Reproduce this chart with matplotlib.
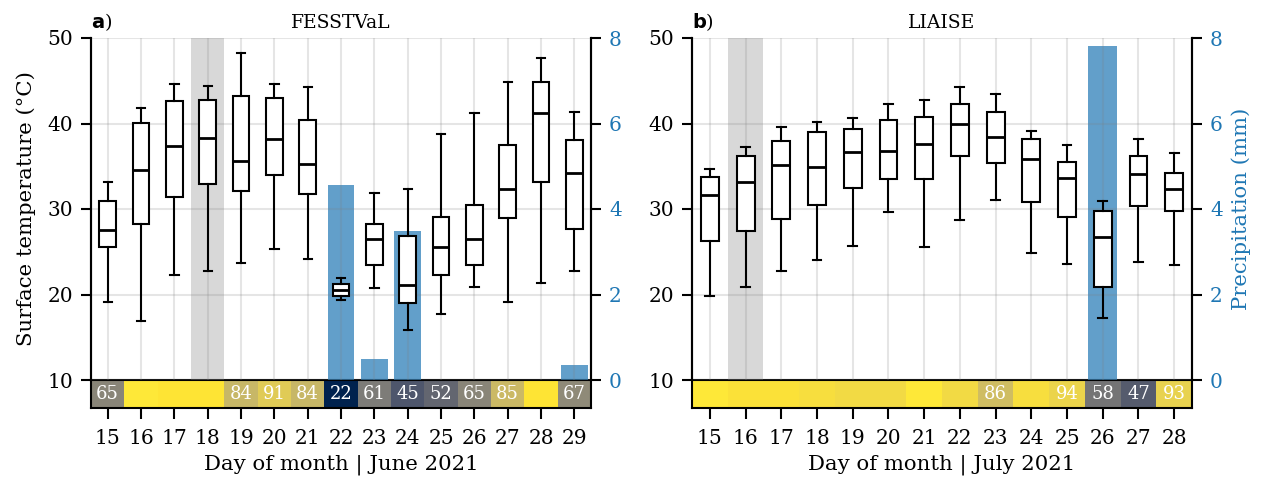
# Daily surface temperature boxes, precipitation and availability strip
# for the FESSTVaL and LIAISE campaigns
import matplotlib.pyplot as plt
import numpy as np

plt.rcParams['font.family'] = 'DejaVu Serif'
plt.rcParams['font.size'] = 13
plt.rcParams['mathtext.fontset'] = 'dejavusans'

TICK_FS = 14.5
LABEL_FS = 15.3
TITLE_FS = 13.5

# FESSTVaL, June 2021
fess_days = list(range(15, 30))
fess_whislo = [19.1, 16.9, 22.3, 22.8, 23.7, 25.3, 24.2, 19.3, 20.8, 15.9, 17.7, 20.9, 19.1, 21.4, 22.8]
fess_q1 = [25.5, 28.2, 31.4, 32.9, 32.1, 34.0, 31.8, 19.8, 23.4, 19.0, 22.3, 23.5, 29.0, 33.2, 27.7]
fess_med = [27.5, 34.6, 37.4, 38.3, 35.6, 38.2, 35.3, 20.5, 26.5, 21.1, 25.5, 26.5, 32.3, 41.2, 34.2]
fess_q3 = [30.9, 40.1, 42.6, 42.8, 43.2, 43.0, 40.4, 21.2, 28.3, 26.8, 29.1, 30.5, 37.5, 44.8, 38.1]
fess_whishi = [33.1, 41.8, 44.6, 44.4, 48.2, 44.6, 44.3, 21.9, 31.9, 32.3, 38.8, 41.2, 44.9, 47.7, 41.3]
fess_precip = [0, 0, 0, 0, 0, 0, 0, 4.56, 0.49, 3.49, 0, 0, 0, 0, 0.35]
fess_avail = [65, 100, 99, 99, 84, 91, 84, 22, 61, 45, 52, 65, 85, 99, 67]
fess_shade = 18

# LIAISE, July 2021
lia_days = list(range(15, 29))
lia_whislo = [19.8, 20.9, 22.8, 24.0, 25.7, 29.7, 25.6, 28.7, 31.0, 24.8, 23.6, 17.2, 23.8, 23.5]
lia_q1 = [26.3, 27.4, 28.8, 30.5, 32.4, 33.5, 33.5, 36.2, 35.4, 30.8, 29.1, 20.9, 30.3, 29.8]
lia_med = [31.6, 33.1, 35.2, 34.9, 36.7, 36.8, 37.6, 39.9, 38.4, 35.8, 33.6, 26.7, 34.1, 32.3]
lia_q3 = [33.7, 36.2, 38.0, 39.0, 39.4, 40.4, 40.8, 42.3, 41.4, 38.2, 35.5, 29.8, 36.2, 34.2]
lia_whishi = [34.7, 37.3, 39.6, 40.2, 40.7, 42.3, 42.8, 44.3, 43.4, 39.1, 37.5, 30.9, 38.2, 36.5]
lia_precip = [0, 0, 0, 0, 0, 0, 0, 0, 0, 0, 0, 7.81, 0, 0]
lia_avail = [100, 98, 98, 97, 96, 96, 100, 96, 86, 97, 94, 58, 47, 93]
lia_shade = 16

vmin = min(min(fess_avail), min(lia_avail))
vmax = 100

fig = plt.figure(figsize=(12.62, 4.79), dpi=100)
W, H = 1262, 479


def panel(x0, days, whislo, q1, med, q3, whishi, precip, avail, shade,
          letter, title, month, left_label, right_label):
    days = np.array(days)
    ax = fig.add_axes([x0 / W, (H - 380) / H, 500 / W, 342 / H])
    strip = fig.add_axes([x0 / W, (H - 408) / H, 500 / W, 28 / H], sharex=ax)
    ax2 = ax.twinx()

    # precipitation bars behind the boxes
    ax2.bar(days, precip, width=0.8, color='tab:blue', alpha=0.7)
    ax2.set_ylim(0, 8)
    ax2.set_yticks([0, 2, 4, 6, 8])
    ax2.tick_params(axis='y', colors='tab:blue', length=7, width=1.5,
                    labelsize=TICK_FS, pad=6)
    ax2.tick_params(axis='y', color='black')
    if right_label:
        ax2.set_ylabel('Precipitation (mm)', color='tab:blue',
                       fontsize=LABEL_FS, labelpad=6)

    ax.set_zorder(ax2.get_zorder() + 1)
    ax.patch.set_visible(False)

    stats = []
    for i in range(len(days)):
        stats.append(dict(med=med[i], q1=q1[i], q3=q3[i],
                          whislo=whislo[i], whishi=whishi[i], fliers=[]))
    ax.bxp(stats, positions=days, widths=0.5, patch_artist=True,
           showfliers=False,
           boxprops=dict(facecolor='white', edgecolor='black', linewidth=1.5),
           medianprops=dict(color='black', linewidth=2),
           whiskerprops=dict(color='black', linewidth=1.5),
           capprops=dict(color='black', linewidth=1.5),
           manage_ticks=False)

    ax.axvspan(shade - 0.5, shade + 0.5, color='gray', alpha=0.3, lw=0, zorder=1)
    ax.set_xlim(days[0] - 0.5, days[-1] + 0.5)
    ax.set_ylim(10, 50)
    ax.set_yticks([10, 20, 30, 40, 50])
    ax.set_xticks(days)
    ax.grid(True, color='gray', alpha=0.2, lw=1.5)
    ax.tick_params(axis='x', length=0, labelbottom=False)
    ax.tick_params(axis='y', length=7, width=1.5, labelsize=TICK_FS, pad=6)
    for a in (ax, ax2):
        a.spines['top'].set_visible(False)
        a.spines['bottom'].set_visible(False)
        for s in ('left', 'right'):
            a.spines[s].set_linewidth(1.5)
    if left_label:
        ax.set_ylabel('Surface temperature (°C)', fontsize=LABEL_FS, labelpad=8)
    ax.set_title(title, fontsize=TITLE_FS, pad=7)
    ax.text(0.0, 1.015, r'$\mathbf{' + letter + '}$)', transform=ax.transAxes,
            ha='left', va='bottom', fontsize=TITLE_FS + 0.5)

    # availability strip
    edges = np.arange(days[0] - 0.5, days[-1] + 1.0, 1.0)
    strip.pcolormesh(edges, [0, 1], np.array(avail)[np.newaxis, :],
                     cmap='cividis', vmin=vmin, vmax=vmax)
    for d, v in zip(days, avail):
        if v < 95:
            strip.text(d, 0.5, str(v), ha='center', va='center',
                       color='white', fontsize=13)
    strip.set_ylim(0, 1)
    strip.set_yticks([])
    strip.set_xticks(days)
    strip.tick_params(axis='x', length=8, width=1.5, labelsize=TICK_FS, pad=7)
    for s in strip.spines.values():
        s.set_linewidth(1.5)
    strip.set_xlabel('Day of month | ' + month, fontsize=LABEL_FS, labelpad=5)
    return ax


panel(91, fess_days, fess_whislo, fess_q1, fess_med, fess_q3, fess_whishi,
      fess_precip, fess_avail, fess_shade, 'a', 'FESSTVaL', 'June 2021',
      True, False)
panel(692, lia_days, lia_whislo, lia_q1, lia_med, lia_q3, lia_whishi,
      lia_precip, lia_avail, lia_shade, 'b', 'LIAISE', 'July 2021',
      False, True)

fig.savefig('out.png', dpi=100)
